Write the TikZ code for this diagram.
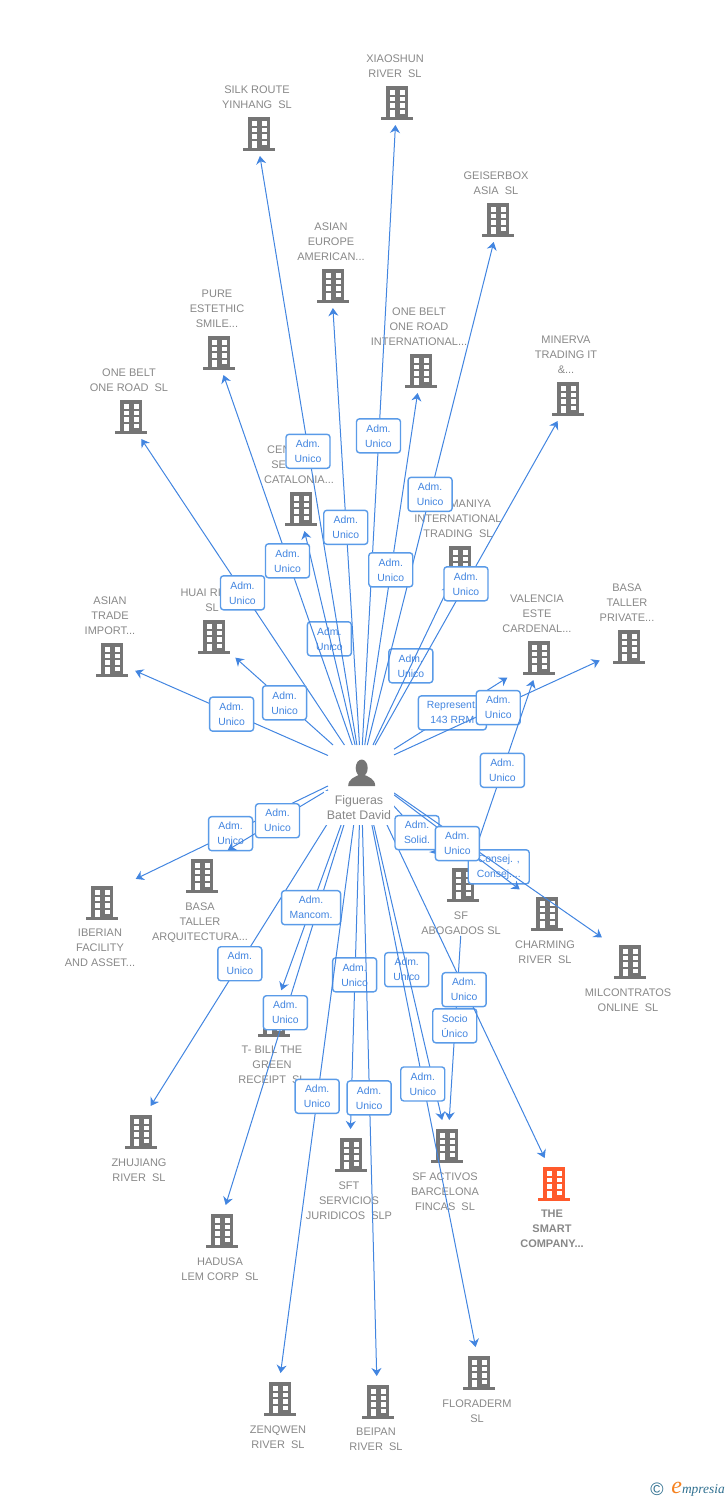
\documentclass[tikz,border=0pt]{standalone}
\usepackage{fontspec}
\setmainfont{Liberation Sans}
\newfontfamily\logofont{Liberation Serif}
\usepackage{xcolor}
\usepackage{tikz}
\usetikzlibrary{arrows.meta}
\definecolor{iconGray}{HTML}{757575}
\definecolor{textGray}{HTML}{888888}
\definecolor{iconOrange}{HTML}{FF5A2C}
\definecolor{linkBlue}{HTML}{4285E0}
\definecolor{tagBlue}{HTML}{5A9BE8}
\definecolor{logoTeal}{HTML}{2F6F8F}
\definecolor{logoOrange}{HTML}{F58220}
\tikzset{firm/.style={rectangle, minimum width=30pt, minimum height=24pt, inner sep=0pt, outer sep=0pt}}
\tikzset{firmtext/.style={inner sep=0pt, align=center, text=textGray, font=\fontsize{5.5}{7.5}\selectfont}}
\tikzset{hubbox/.style={rectangle, minimum width=33pt, minimum height=25pt, inner sep=0pt, outer sep=0pt}}
\tikzset{hubtext/.style={fill=white, inner sep=0pt, align=center, minimum width=35pt, minimum height=17pt, text=textGray, font=\fontsize{6.2}{7.5}\selectfont}}
\tikzset{link/.style={draw=linkBlue, line width=0.5pt, -{Stealth[length=4pt, width=5pt, inset=1.3pt]}}}
\tikzset{tag/.style={rectangle, rounded corners=1.5pt, draw=tagBlue, line width=0.7pt, fill=white, inner sep=0pt, align=center, minimum width=22pt, minimum height=17pt, xshift=-0.2pt, yshift=-0.4pt, text=linkBlue, font=\fontsize{5.2}{7.5}\selectfont}}
\tikzset{pics/bldg/.style={code={
	\fill[#1] (-11,-17) rectangle (11,14);
	\fill[#1] (-16,14) rectangle (16,17);
	\foreach \wx in {-7.5,2.5} \foreach \wy in {-13,-6.5,0} \fill[white] (\wx,\wy) rectangle +(5,4.5);
	\fill[white] (-7.5,6.5) rectangle (-2.5,14);
	\fill[white] (2.5,6.5) rectangle +(5,4.5);
}}}
\tikzset{pics/person/.style={code={
	\fill[iconGray] (0,-4) ellipse (6 and 8.5);
	\fill[iconGray] (-13.5,14) .. controls (-13.5,7) and (-7,5) .. (-3,3) -- (3,3) .. controls (7,5) and (13.5,7) .. (13.5,14) -- cycle;
}}}

\begin{document}
\begin{tikzpicture}[x=0.5pt, y=-0.5pt]
	\useasboundingbox (0,0) rectangle (728,1500);

	\foreach \id/\x/\y/\txt in {xiao/397/103/{XIAOSHUN\\RIVER~~SL}, silk/259/134/{SILK ROUTE\\YINHANG~~SL}, geiser/498/220/{GEISERBOX\\ASIA~~SL}, asiaeu/333/286/{ASIAN\\EUROPE\\AMERICAN...}, pure/219/353/{PURE\\ESTETHIC\\SMILE...}, obint/421/371/{ONE BELT\\ONE ROAD\\INTERNATIONAL...}, minerva/568/399/{MINERVA\\TRADING IT\\\&...}, obr/131/417/{ONE BELT\\ONE ROAD~~SL}, centre/301/509/{CENTRE DE\\SERVICES\\CATALONIA...}, maniya/460/563/{\hphantom{MAN}MANIYA\\INTERNATIONAL\\TRADING~~SL}, asiat/112/660/{ASIAN\\TRADE\\IMPORT...}, huai/214/637/{HUAI RIVER\\SL}, valencia/539/658/{VALENCIA\\ESTE\\CARDENAL...}, bprivate/629/647/{BASA\\TALLER\\PRIVATE...}} {
		\pgfmathsetmacro{\ax}{\x-1+(\x-361)*0.02}
		\node[firm] (\id) at (\ax,\y-2) {};
		\pic at (\x,\y) {bldg=iconGray};
		\node[firmtext, anchor=south] (\id-t) at (\x-2,\y-25) {\txt};
	}
	\foreach \id/\x/\y/\txt in {sfab/463/885/{SF\\ABOGADOS SL}, charming/547/914/{CHARMING\\RIVER~~SL}, milcon/630/962/{MILCONTRATOS\\ONLINE~~SL}, basat/202/876/{BASA\\TALLER\\ARQUITECTURA...}, iberian/102/903/{IBERIAN\\FACILITY\\AND ASSET...}, tbill/274/1020/{T- BILL THE\\GREEN\\RECEIPT~~SL}, zhu/141/1132/{ZHUJIANG\\RIVER~~SL}, sft/351/1155/{SFT\\SERVICIOS\\JURIDICOS~~SLP}, sfact/447/1146/{SF ACTIVOS\\BARCELONA\\FINCAS~~SL}, hadusa/222/1231/{HADUSA\\LEM CORP~~SL}, zen/280/1399/{ZENQWEN\\RIVER~~SL}, beipan/378/1402/{BEIPAN\\RIVER~~SL}, flora/479/1373/{FLORADERM\\SL}} {
		\pgfmathsetmacro{\ax}{\x-1+(\x-361)*0.02}
		\node[firm] (\id) at (\ax,\y-2) {};
		\pic at (\x,\y) {bldg=iconGray};
		\node[firmtext, anchor=north] (\id-t) at (\x-2,\y+26) {\txt};
	}
	\node[firm] (smart) at (556,1182) {};
	\pic at (554,1184) {bldg=iconOrange};
	\node[firmtext, anchor=north, font=\fontsize{5.5}{7.5}\selectfont\bfseries] (smart-t) at (552,1210) {THE\\SMART\\COMPANY...};

	\node[hubbox] (hub) at (361,770) {};

	\path (hub) -- node[tag] (tcentre) {Adm.\\Unico} (centre);
	\path (hub) -- node[tag] (tmaniya) {Adm.\\Unico} (maniya);
	\draw[link] (hub) -- (centre);
	\draw[link] (hub) -- (maniya);
	\draw[link] (hub) -- node[tag] (tminerva) {Adm.\\Unico} (minerva);
	\draw[link] (hub) -- node[tag] (txiao) {Adm.\\Unico} (xiao);
	\draw[link] (hub) -- node[tag] (tsilk) {Adm.\\Unico} (silk);
	\draw[link] (hub) -- node[tag] (tgeiser) {Adm.\\Unico} (geiser);
	\draw[link] (hub) -- node[tag] (tasiaeu) {Adm.\\Unico} (asiaeu);
	\draw[link] (hub) -- node[tag] (tpure) {Adm.\\Unico} (pure);
	\draw[link] (hub) -- node[tag] (tobint) {Adm.\\Unico} (obint);
	\draw[link] (hub) -- node[tag] (tobr) {Adm.\\Unico} (obr);
	\draw[link, shorten >=-1pt] (hub) -- node[tag] (thuai) {Adm.\\Unico} (huai);
	\draw[link, shorten >=-0.5pt] (hub) -- node[tag] (tasiat) {Adm.\\Unico} (asiat);
	\draw[link, shorten >=2.5pt] (hub) -- node[tag, minimum width=34pt] (tvalencia) {Represent.\\143 RRM} (valencia);
	\draw[link, shorten >=2pt] (hub) -- node[tag] (tbprivate) {Adm.\\Unico} (bprivate);

	\draw[link, shorten >=5.5pt] (hub) -- node[tag, pos=.48] (tiberian) {Adm.\\Unico} (iberian.30);
	\draw[link] (hub) -- node[tag] (tbasat) {Adm.\\Unico} (basat.north east);
	\draw[link] (hub) -- node[tag, pos=.54] (tzhu) {Adm.\\Unico} (zhu);
	\draw[link] (hub) -- node[tag, pos=.529] (thadusa) {Adm.\\Unico} (hadusa);
	\draw[link, shorten >=2pt] (hub) -- node[tag, pos=.562, minimum width=29.5pt] (ttbill) {Adm.\\Mancom.} (tbill);
	\draw[link] (hub) -- node[tag, pos=.536] (tsft) {Adm.\\Unico} (sft);
	\draw[link] (hub) -- node[tag, pos=.52] (tzen) {Adm.\\Unico} (zen);
	\draw[link] (hub) -- node[tag, pos=.52] (tbeipan) {Adm.\\Unico} (beipan);
	\path (hub) -- node[tag, pos=.535] (tsfact) {Adm.\\Unico} (sfact);
	\draw[link] (hub) -- (sfact);
	\draw[link] (hub) -- node[tag, pos=.522] (tflora) {Adm.\\Unico} (flora);
	\draw[link, shorten <=14.5pt] (sfab) -- node[tag, pos=.554] (tsocio) {Socio\\Único} (sfact);
	\draw[link] (hub) -- node[tag, pos=.534] (tsmart) {Adm.\\Unico} (smart);
	\draw[link] (sfab) -- node[tag] (tsfval) {Adm.\\Unico} (valencia);
	\draw[link, shorten >=3pt] (hub) -- node[tag, pos=.576] (tsfab) {Adm.\\Solid.} (sfab);
	\path (hub) -- node[tag, minimum width=30.5pt] (tmilcon) {Consej. ,\\Consej....} (milcon);
	\draw[link, shorten >=1.5pt] (hub) -- (milcon);
	\draw[link] (hub) -- node[tag, pos=.507] (tcharming) {Adm.\\Unico} (charming);

	\pic at (361.7,772) {person};
	\node[hubtext] (hubname) at (359,808) {Figueras\\Batet David};

	\node[inner sep=0pt, text=logoTeal, font=\fontsize{9}{9}\selectfont] (copysign) at (657,1489) {©};
	\node[inner sep=0pt, anchor=west, text=logoTeal, font=\logofont\fontsize{6.7}{7}\selectfont\itshape] (logo) at (671,1489) {\textcolor{logoOrange}{\fontsize{12}{7}\selectfont e}mpresia};
\end{tikzpicture}
\end{document}
